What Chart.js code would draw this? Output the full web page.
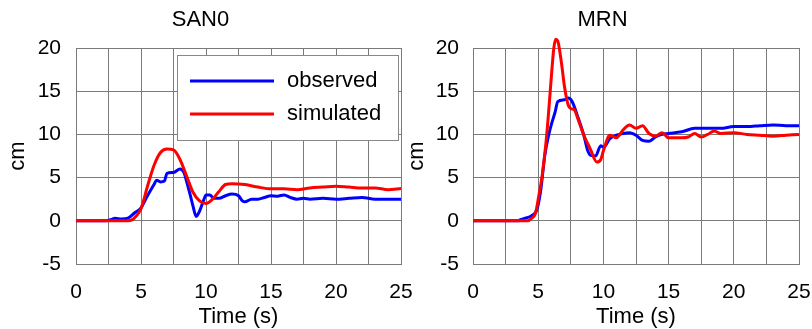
<!DOCTYPE html>
<html>
<head>
<title>SAN0 / MRN</title>
<script src="https://cdn.jsdelivr.net/npm/chart.js"></script>
<style>
    body { margin: 0; background: #fff; overflow: hidden; }
    #wrap { position: relative; width: 812px; height: 329px; overflow: hidden; }
    #sanWrap { position: absolute; left: 0; top: 0; }
    #mrnWrap { position: absolute; left: 406px; top: 0; }
</style>
</head>
<body>
<div id="wrap">
    <div id="sanWrap"><canvas id="sanChart" width="448" height="329"></canvas></div>
    <div id="mrnWrap"><canvas id="mrnChart" width="450" height="329"></canvas></div>
</div>
<script>
// SAN0 station, time (s) / displacement (cm)
const sanObsT = [0, 2.3, 2.8, 3, 3.5, 4, 4.5, 5, 5.5, 6, 6.2, 6.5, 6.8, 7, 7.5, 8, 8.3, 8.5, 8.8, 9, 9.25, 9.5, 9.8, 10, 10.3, 10.6, 11, 11.5, 12, 12.5, 12.8, 13, 13.5, 14, 14.5, 15, 15.5, 16, 16.5, 17, 17.5, 18, 19, 20, 21, 22, 23, 24, 25];
const sanObsV = [0, 0, 0.2, 0.3, 0.2, 0.3, 0.9, 1.5, 2.9, 4.2, 4.7, 4.5, 4.6, 5.5, 5.6, 6.0, 5.6, 4.6, 2.9, 1.7, 0.5, 1.1, 2.3, 3.0, 3.0, 2.6, 2.6, 2.9, 3.1, 2.9, 2.3, 2.2, 2.5, 2.5, 2.7, 2.9, 2.85, 3.0, 2.7, 2.5, 2.6, 2.5, 2.6, 2.5, 2.6, 2.7, 2.5, 2.5, 2.5];
const sanSimT = [0, 4, 4.3, 4.6, 5, 5.5, 6, 6.5, 7, 7.5, 8, 8.5, 9, 9.5, 10, 10.5, 11, 11.5, 12, 13, 14, 15, 16, 17, 18, 19, 20, 21, 22, 23, 24, 25];
const sanSimV = [0, 0, 0.1, 0.5, 1.4, 4.0, 6.4, 7.9, 8.3, 8.2, 7.1, 5.2, 3.3, 2.3, 2.0, 2.5, 3.4, 4.2, 4.3, 4.2, 3.9, 3.7, 3.7, 3.6, 3.8, 3.9, 4.0, 3.9, 3.8, 3.8, 3.6, 3.75];

// MRN station
const mrnObsT = [0, 3.5, 3.6, 4, 4.5, 4.9, 5.2, 5.5, 5.8, 6, 6.3, 6.5, 7, 7.3, 7.6, 8, 8.5, 8.8, 9, 9.4, 9.8, 10, 10.5, 11, 11.5, 12, 12.5, 13, 13.5, 14, 14.5, 15, 16, 17, 18, 19, 20, 21, 22, 23, 24, 25];
const mrnObsV = [0, 0, 0.1, 0.3, 0.6, 1.3, 3.6, 7.5, 9.9, 11.1, 12.6, 13.8, 14.0, 14.2, 13.8, 12.2, 9.9, 8.1, 7.6, 7.5, 8.7, 8.5, 9.5, 9.9, 10.1, 10.2, 9.9, 9.3, 9.2, 9.7, 10.0, 10.1, 10.3, 10.7, 10.7, 10.7, 10.9, 10.9, 11.0, 11.1, 11.0, 11.0];
const mrnSimT = [0, 4.2, 4.5, 4.8, 5, 5.3, 5.6, 5.8, 6, 6.2, 6.35, 6.5, 6.8, 7, 7.3, 7.5, 7.8, 8, 8.5, 9, 9.5, 9.8, 10, 10.5, 11, 11.5, 12, 12.5, 13, 13.5, 14, 14.5, 15, 16, 16.5, 17, 17.5, 18, 18.5, 19, 20, 21, 22, 23, 24, 25];
const mrnSimV = [0, 0, 0.3, 0.9, 2.5, 5.2, 9.1, 12.6, 16.5, 20.0, 21.0, 20.8, 18.1, 15.7, 13.4, 13.0, 12.8, 12.0, 9.9, 8.3, 6.8, 7.1, 8.1, 9.9, 9.6, 10.5, 11.1, 10.7, 11.0, 10.1, 9.8, 10.2, 9.6, 9.6, 9.7, 10.1, 9.7, 10.0, 10.4, 10.1, 10.2, 10.0, 9.9, 9.8, 9.9, 10.0];

const fontFamily = '"Liberation Sans", Arial, sans-serif';
const gridColor = '#7a7a7a';

function pts(t, v) {
    return t.map((x, i) => ({ x: x, y: v[i] }));
}

// short inward ticks on the y axis between the labelled values
const minorTicks = {
    id: 'minorTicks',
    beforeDatasetsDraw(chart) {
        const y = chart.scales.y, a = chart.chartArea, ctx = chart.ctx;
        ctx.save();
        ctx.strokeStyle = gridColor;
        ctx.lineWidth = 1;
        y.ticks.forEach(t => {
            if (t.value % 5 === 0) return;
            const py = Math.round(y.getPixelForValue(t.value)) + 0.5;
            ctx.beginPath();
            ctx.moveTo(a.left, py);
            ctx.lineTo(a.left + 5, py);
            ctx.stroke();
        });
        ctx.restore();
    }
};

// boxed legend in the upper right of the plot
const boxLegend = {
    id: 'boxLegend',
    afterDraw(chart, args, opts) {
        if (!opts.show) return;
        const a = chart.chartArea, ctx = chart.ctx;
        const x0 = Math.round(a.right - 224), y0 = Math.round(a.top + 7), w = 221, h = 85;
        ctx.save();
        ctx.fillStyle = '#fff';
        ctx.fillRect(x0, y0, w, h);
        ctx.strokeStyle = '#888';
        ctx.lineWidth = 1;
        ctx.strokeRect(x0 + 0.5, y0 + 0.5, w, h);
        ctx.font = '22px ' + fontFamily;
        ctx.textBaseline = 'middle';
        chart.data.datasets.forEach((ds, i) => {
            const ly = y0 + 26 + i * 33;
            ctx.strokeStyle = ds.borderColor;
            ctx.lineWidth = 3;
            ctx.beginPath();
            ctx.moveTo(x0 + 13, ly);
            ctx.lineTo(x0 + 97, ly);
            ctx.stroke();
            ctx.fillStyle = '#000';
            ctx.fillText(ds.label, x0 + 110, ly);
        });
        ctx.restore();
    }
};

function makeChart(id, title, obs, sim, o) {
    return new Chart(document.getElementById(id), {
        type: 'line',
        data: {
            datasets: [
                { label: 'observed', data: obs, borderColor: '#0000ff', order: 1 },
                { label: 'simulated', data: sim, borderColor: '#ff0000', order: 0 }
            ]
        },
        options: {
            responsive: false,
            animation: false,
            layout: { padding: { left: 0, right: o.rightPad, top: 0, bottom: 0 } },
            datasets: {
                line: {
                    borderWidth: 3, pointRadius: 0, fill: false,
                    cubicInterpolationMode: 'monotone', clip: false
                }
            },
            scales: {
                x: {
                    type: 'linear', min: 0, max: 25,
                    ticks: {
                        stepSize: 2.5, autoSkip: false, maxRotation: 0, padding: 16,
                        color: '#000', font: { size: 21, family: fontFamily },
                        callback: v => (v % 5 === 0 ? v : '')
                    },
                    grid: { color: gridColor, drawTicks: false },
                    border: { color: gridColor },
                    title: {
                        display: true, text: 'Time (s)', color: '#000',
                        font: { size: 22, family: fontFamily, lineHeight: 1 },
                        padding: { top: 0, bottom: 1 }
                    },
                    afterFit: s => { s.height = 65; }
                },
                y: {
                    min: -5, max: 20,
                    ticks: {
                        stepSize: 2.5, padding: o.yTickPad,
                        color: '#000', font: { size: 21, family: fontFamily },
                        callback: v => (v % 5 === 0 ? v : '')
                    },
                    grid: {
                        drawTicks: false,
                        color: c => (c.tick && c.tick.value % 5 !== 0 ? 'rgba(0,0,0,0)' : gridColor)
                    },
                    border: { color: gridColor },
                    title: {
                        display: true, text: 'cm', color: '#000',
                        font: { size: 22, family: fontFamily, lineHeight: 1 },
                        padding: { top: o.cmPad, bottom: 0 }
                    },
                    afterFit: s => { s.width = o.yWidth; }
                }
            },
            plugins: {
                legend: { display: false },
                tooltip: { enabled: false },
                title: {
                    display: true, text: title, color: '#000',
                    font: { size: 22, family: fontFamily, weight: 'normal', lineHeight: 1 },
                    padding: { top: 9, bottom: 17 }
                },
                boxLegend: { show: o.legend }
            }
        },
        plugins: [minorTicks, boxLegend]
    });
}

makeChart('sanChart', 'SAN0', pts(sanObsT, sanObsV), pts(sanSimT, sanSimV),
    { rightPad: 47, yWidth: 76, yTickPad: 15, cmPad: 7, legend: true });
makeChart('mrnChart', 'MRN', pts(mrnObsT, mrnObsV), pts(mrnSimT, mrnSimV),
    { rightPad: 57, yWidth: 67, yTickPad: 14, cmPad: 0, legend: false });
</script>
</body>
</html>
